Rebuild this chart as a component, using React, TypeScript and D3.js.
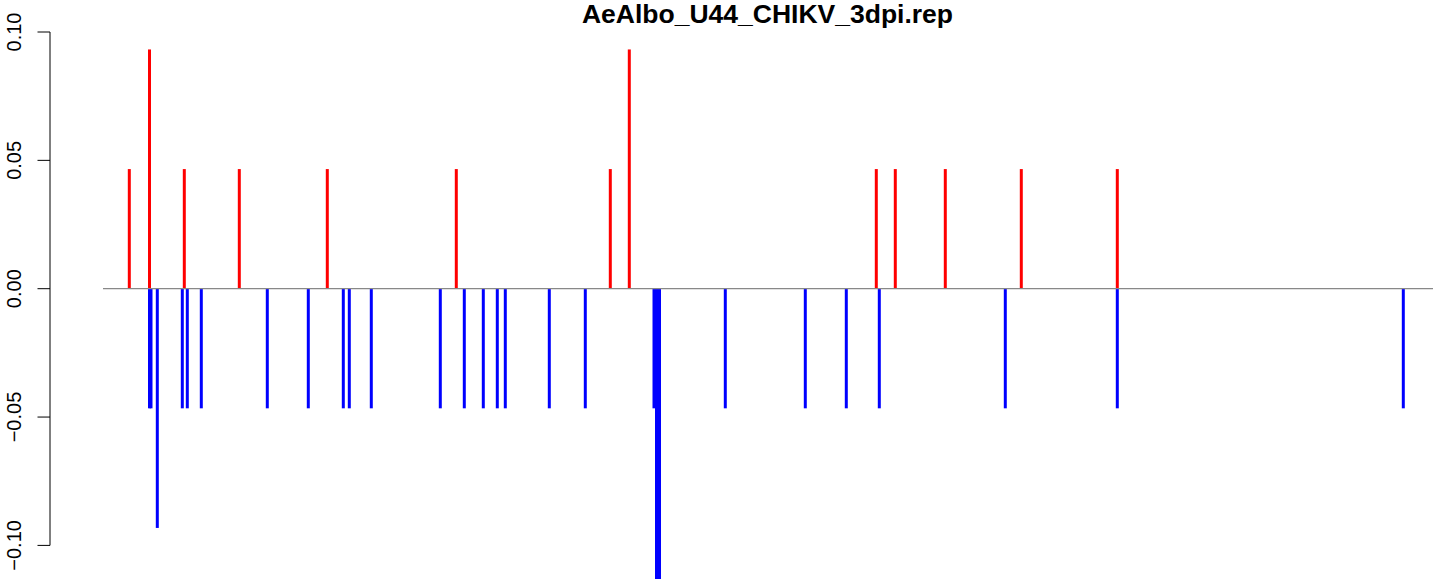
import React from "react";
import * as d3 from "d3";

// Sequence positions (arbitrary units along the x extent) and values
const upPositions = [26.3, 46.5, 81.3, 136.3, 224.3, 353.3, 507.3, 526.3, 773.3, 792.3, 842.3, 918.3, 1014.3];
const upValues = [0.0466, 0.0932, 0.0466, 0.0466, 0.0466, 0.0466, 0.0466, 0.0932, 0.0466, 0.0466, 0.0466, 0.0466, 0.0466];

const downPositions = [46.5, 48.0, 54.3, 79.3, 84.3, 98.3, 164.3, 205.3, 240.3, 246.3, 268.3, 337.3, 361.3, 380.3, 394.3, 402.3, 446.3, 482.3, 551.0, 553.5, 556.5, 622.3, 702.3, 743.3, 776.3, 902.3, 1014.3, 1300.3];
const downValues = [-0.0466, -0.0466, -0.0932, -0.0466, -0.0466, -0.0466, -0.0466, -0.0466, -0.0466, -0.0466, -0.0466, -0.0466, -0.0466, -0.0466, -0.0466, -0.0466, -0.0466, -0.0466, -0.0466, -0.1398, -0.1398, -0.0466, -0.0466, -0.0466, -0.0466, -0.0466, -0.0466, -0.0466];

const yTicks = [-0.1, -0.05, 0, 0.05, 0.1];
const yTickLabels = ["\u22120.10", "\u22120.05", "0.00", "0.05", "0.10"];
const title = "AeAlbo_U44_CHIKV_3dpi.rep";

const W = 1444;
const H = 579;

export default function App() {
  const x = d3.scaleLinear().domain([0, 1330]).range([103, 1433]);
  const y = d3.scaleLinear().domain([0, 0.1]).range([288.7, 32]);
  const axisX = 50;

  return (
    <svg
      width={W}
      height={H}
      style={{ position: "absolute", left: 0, top: 0, display: "block", background: "#fff" }}
      fontFamily="'Liberation Sans', Arial, Helvetica, sans-serif"
    >
      <rect x={0} y={0} width={W} height={H} fill="#fff" />
      {upPositions.map((p, i) => (
        <line key={"u" + i} x1={x(p)} x2={x(p)} y1={y(0)} y2={y(upValues[i])} stroke="#FF0000" strokeWidth={3} />
      ))}
      {downPositions.map((p, i) => (
        <line key={"d" + i} x1={x(p)} x2={x(p)} y1={y(0)} y2={y(downValues[i])} stroke="#0000FF" strokeWidth={3} />
      ))}
      <line x1={x(0)} x2={x(1330)} y1={y(0)} y2={y(0)} stroke="#888888" strokeWidth={1.2} />
      {/* y axis */}
      <line x1={axisX} x2={axisX} y1={y(yTicks[0])} y2={y(yTicks[yTicks.length - 1])} stroke="#000" strokeWidth={1} />
      {yTicks.map((t, i) => (
        <g key={"t" + i}>
          <line x1={axisX - 12.5} x2={axisX} y1={y(t)} y2={y(t)} stroke="#000" strokeWidth={1} />
          <text
            transform={`translate(21,${y(t)}) rotate(-90)`}
            textAnchor="middle"
            fontSize={20}
            fill="#000"
          >
            {yTickLabels[i]}
          </text>
        </g>
      ))}
      <text x={767.5} y={22.5} textAnchor="middle" fontSize={26.5} fontWeight="bold" fill="#000">
        {title}
      </text>
    </svg>
  );
}
